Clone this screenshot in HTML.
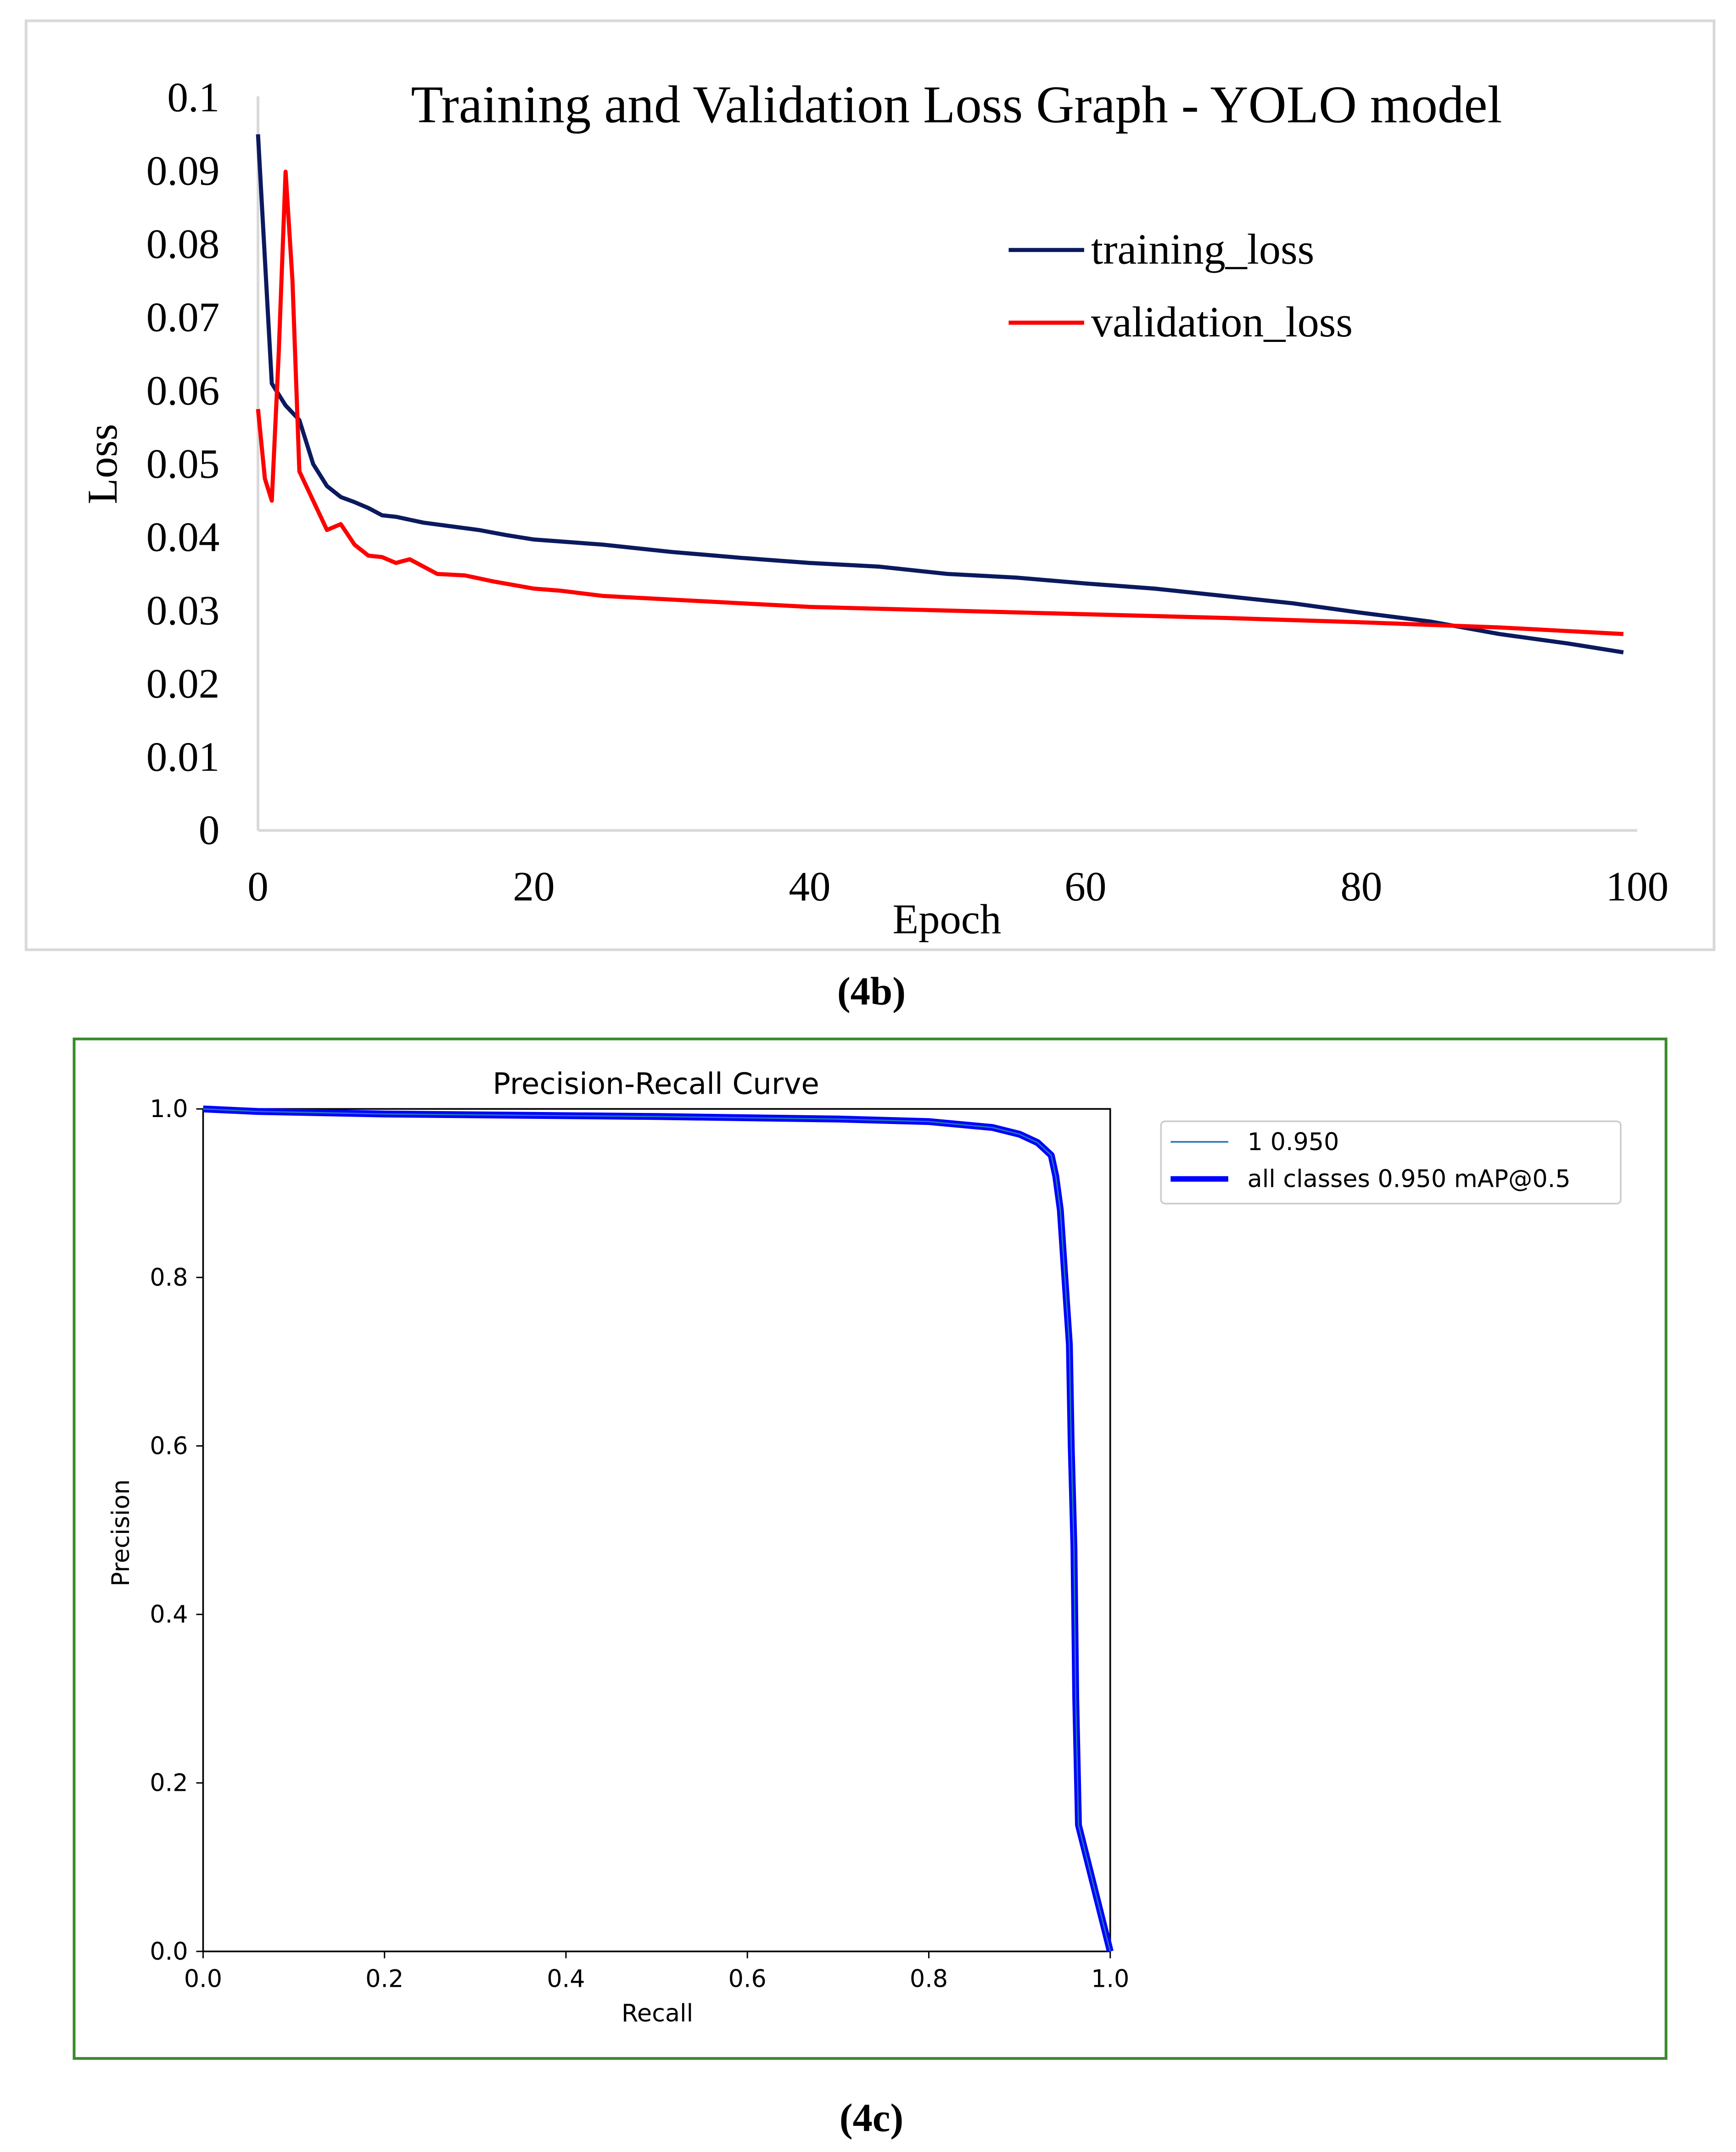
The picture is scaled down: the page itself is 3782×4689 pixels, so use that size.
<!DOCTYPE html>
<html><head><meta charset="utf-8"><style>
html,body{margin:0;padding:0;background:#fff}
svg{display:block}
.tm{font-family:"Liberation Serif",serif}
.dv{font-family:"DejaVu Sans","Liberation Sans",sans-serif}
</style></head><body>
<svg id="root" width="3782" height="4689" viewBox="0 0 1265 1568" xmlns="http://www.w3.org/2000/svg">
<rect x="0" y="0" width="1265" height="1568" fill="#fff"/>
<g>
<rect x="19" y="15" width="1230" height="677" fill="#fff" stroke="#d9d9d9" stroke-width="2"/>
<text x="697" y="89" font-size="38.5" text-anchor="middle" class="tm">Training and Validation Loss Graph - YOLO model</text>
<g id="lossTicks"></g>
<line x1="188" y1="70" x2="188" y2="605" stroke="#d9d9d9" stroke-width="2"/>
<line x1="188" y1="605" x2="1193" y2="605" stroke="#d9d9d9" stroke-width="2"/>
<g id="lossLines"></g>
<text x="85" y="338" font-size="31" text-anchor="middle" class="tm" transform="rotate(-90 85 338)">Loss</text>
<text x="690" y="680" font-size="31" text-anchor="middle" class="tm">Epoch</text>
<g>
<line x1="735" y1="182" x2="790" y2="182" stroke="#0b1a5e" stroke-width="3"/>
<text x="795" y="192" font-size="31.5" class="tm">training_loss</text>
<line x1="735" y1="235" x2="790" y2="235" stroke="#ff0000" stroke-width="3"/>
<text x="795" y="245" font-size="31.5" class="tm">validation_loss</text>
</g>
</g>
<text x="635" y="732" font-size="29" font-weight="bold" text-anchor="middle" class="tm">(4b)</text>

<g>
<rect x="54" y="757" width="1160" height="743" fill="#fff" stroke="#3a8a2a" stroke-width="2"/>
<text x="478" y="797" font-size="21.5" text-anchor="middle" class="dv">Precision-Recall Curve</text>
<rect x="148" y="808" width="661" height="614" fill="none" stroke="#000" stroke-width="1.2"/>
<g id="prTicks"></g>
<g id="prLines"></g>
<text x="94" y="1117" font-size="17.5" text-anchor="middle" class="dv" transform="rotate(-90 94 1117)">Precision</text>
<text x="479" y="1473" font-size="17.5" text-anchor="middle" class="dv">Recall</text>
<g>
<rect x="846" y="817" width="335" height="60" rx="3" fill="#fff" stroke="#ccc" stroke-width="1.2"/>
<line x1="853" y1="832" x2="895" y2="832" stroke="#1f77b4" stroke-width="1.2"/>
<text x="909" y="838" font-size="17.5" class="dv">1 0.950</text>
<line x1="853" y1="859" x2="895" y2="859" stroke="#0000ff" stroke-width="4"/>
<text x="909" y="865" font-size="17.5" class="dv">all classes 0.950 mAP@0.5</text>
</g>
</g>
<text x="635" y="1553" font-size="29" font-weight="bold" text-anchor="middle" class="tm">(4c)</text>
</svg>
<script>
const lossYTicks=["0","0.01","0.02","0.03","0.04","0.05","0.06","0.07","0.08","0.09","0.1"];
const lossXTicks=[0,20,40,60,80,100];
const trainEpochs=[0,1,2,3,4,5,6,7,8,9,10,12,14,16,18,20,25,30,35,40,45,50,55,60,65,70,75,80,85,90,95,99];
const trainLoss=[0.095,0.061,0.058,0.056,0.050,0.047,0.0455,0.0448,0.044,0.043,0.0428,0.042,0.0415,0.041,0.0403,0.0397,0.039,0.038,0.0372,0.0365,0.036,0.035,0.0345,0.0337,0.033,0.032,0.031,0.0297,0.0285,0.0268,0.0255,0.0243];
const valEpochs=[0,0.5,1,1.5,2,2.5,3,4,5,6,7,8,9,10,11,12,13,15,17,20,22,25,30,35,40,50,60,70,80,90,99];
const valLoss=[0.0575,0.048,0.045,0.065,0.0899,0.075,0.049,0.045,0.041,0.0418,0.039,0.0375,0.0373,0.0365,0.037,0.036,0.035,0.0348,0.034,0.033,0.0327,0.032,0.0315,0.031,0.0305,0.030,0.0295,0.029,0.0284,0.0277,0.0268];
const prTicks=["0.0","0.2","0.4","0.6","0.8","1.0"];
const prRecall=[0,0.06,0.2,0.5,0.7,0.8,0.87,0.9,0.92,0.935,0.94,0.945,0.95,0.955,0.957,0.96,0.962,0.965,1.0];
const prPrecision=[1,0.997,0.994,0.991,0.988,0.985,0.978,0.97,0.96,0.945,0.92,0.88,0.8,0.72,0.6,0.48,0.3,0.15,0.0];

const NS="http://www.w3.org/2000/svg";
function mk(t,a,p){const e=document.createElementNS(NS,t);for(const k in a)e.setAttribute(k,a[k]);p.appendChild(e);return e;}
const lx=v=>188+v/100*1005, ly=v=>605-v/0.1*534;
const px=v=>148+v*661, py=v=>1422-v*614;

const lt=document.getElementById('lossTicks');
lossYTicks.forEach(s=>{const t=mk('text',{x:160,y:ly(parseFloat(s))+10,'font-size':30.5,'text-anchor':'end','class':'tm'},lt);t.textContent=s;

});
lossXTicks.forEach(v=>{const t=mk('text',{x:lx(v),y:656,'font-size':30.5,'text-anchor':'middle','class':'tm'},lt);t.textContent=v;

});

const ll=document.getElementById('lossLines');
const tl=mk('polyline',{points:trainEpochs.map((e,i)=>lx(e)+','+ly(trainLoss[i])).join(' '),fill:'none',stroke:'#0b1a5e','stroke-width':3,'stroke-linejoin':'round'},ll);


const vl=mk('polyline',{points:valEpochs.map((e,i)=>lx(e)+','+ly(valLoss[i])).join(' '),fill:'none',stroke:'#ff0000','stroke-width':3,'stroke-linejoin':'round'},ll);



const pt=document.getElementById('prTicks');
prTicks.forEach(s=>{const v=parseFloat(s);
const a=mk('line',{x1:px(v),y1:1422,x2:px(v),y2:1427,stroke:'#000'},pt);


const t=mk('text',{x:px(v),y:1448,'font-size':17.5,'text-anchor':'middle','class':'dv'},pt);t.textContent=s;


const b=mk('line',{x1:143,y1:py(v),x2:148,y2:py(v),stroke:'#000'},pt);


const u=mk('text',{x:137,y:py(v)+6,'font-size':17.5,'text-anchor':'end','class':'dv'},pt);u.textContent=s;

});

const pl=document.getElementById('prLines');
const pts=prRecall.map((r,i)=>px(r)+','+py(prPrecision[i])).join(' ');
const c1=mk('polyline',{points:pts,fill:'none',stroke:'#0000ff','stroke-width':5,'stroke-linejoin':'round'},pl);


const c2=mk('polyline',{points:pts,fill:'none',stroke:'#1f77b4','stroke-width':1},pl);


</script>
</body></html>
